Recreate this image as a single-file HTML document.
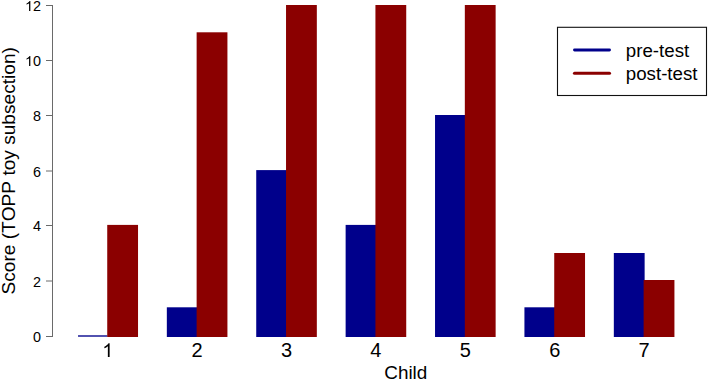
<!DOCTYPE html><html><head><meta charset="utf-8"><style>html,body{margin:0;padding:0;background:#fff;overflow:hidden;}svg{display:block;}text{font-family:"Liberation Sans",sans-serif;fill:#000;font-kerning:none;}</style></head><body>
<svg width="708" height="381" viewBox="0 0 708 381">
<rect x="78.03" y="335" width="29.40" height="2" fill="#00008B" fill-opacity="0.68"/>
<rect x="107.23" y="224.90" width="30.80" height="112.10" fill="#8B0000"/>
<rect x="166.83" y="307.30" width="30.80" height="29.70" fill="#00008B"/>
<rect x="196.63" y="32.30" width="30.80" height="304.70" fill="#8B0000"/>
<rect x="256.23" y="170.10" width="30.80" height="166.90" fill="#00008B"/>
<rect x="286.03" y="5.00" width="30.80" height="332.00" fill="#8B0000"/>
<rect x="345.63" y="224.90" width="30.80" height="112.10" fill="#00008B"/>
<rect x="375.43" y="5.00" width="30.80" height="332.00" fill="#8B0000"/>
<rect x="435.03" y="115.00" width="30.80" height="222.00" fill="#00008B"/>
<rect x="464.83" y="5.00" width="30.80" height="332.00" fill="#8B0000"/>
<rect x="524.43" y="307.30" width="30.80" height="29.70" fill="#00008B"/>
<rect x="554.23" y="253.00" width="30.80" height="84.00" fill="#8B0000"/>
<rect x="613.83" y="253.00" width="30.80" height="84.00" fill="#00008B"/>
<rect x="643.63" y="280.00" width="30.80" height="57.00" fill="#8B0000"/>
<path d="M52.5 5.0 V337.0" stroke="#6a6a6a" stroke-width="1" fill="none"/>
<path d="M46 336.50 H53.0" stroke="#6a6a6a" stroke-width="1" fill="none"/>
<text x="32.99" y="342.00" font-size="14.4">0</text>
<path d="M46 281.00 H53.0" stroke="#6a6a6a" stroke-width="1" fill="none"/>
<text x="32.99" y="286.50" font-size="14.4">2</text>
<path d="M46 225.50 H53.0" stroke="#6a6a6a" stroke-width="1" fill="none"/>
<text x="32.99" y="231.00" font-size="14.4">4</text>
<path d="M46 171.00 H53.0" stroke="#6a6a6a" stroke-width="1" fill="none"/>
<text x="32.99" y="176.50" font-size="14.4">6</text>
<path d="M46 115.50 H53.0" stroke="#6a6a6a" stroke-width="1" fill="none"/>
<text x="32.99" y="121.00" font-size="14.4">8</text>
<path d="M46 60.50 H53.0" stroke="#6a6a6a" stroke-width="1" fill="none"/>
<path fill="#000" transform="translate(24.98,66.00) scale(0.00703,-0.00679)" d="M763 0H583V1147Q518 1085 412.5 1023Q307 961 223 930V1104Q374 1175 487 1276Q600 1377 647 1472H763Z"/>
<text x="32.99" y="66.00" font-size="14.4">0</text>
<path d="M46 5.50 H53.0" stroke="#6a6a6a" stroke-width="1" fill="none"/>
<path fill="#000" transform="translate(24.98,11.00) scale(0.00703,-0.00679)" d="M763 0H583V1147Q518 1085 412.5 1023Q307 961 223 930V1104Q374 1175 487 1276Q600 1377 647 1472H763Z"/>
<text x="32.99" y="11.00" font-size="14.4">2</text>
<path fill="#000" transform="translate(102.17,357.00) scale(0.00977,-0.00938)" d="M763 0H583V1147Q518 1085 412.5 1023Q307 961 223 930V1104Q374 1175 487 1276Q600 1377 647 1472H763Z"/>
<text x="191.57" y="357.00" font-size="20.0">2</text>
<text x="280.97" y="357.00" font-size="20.0">3</text>
<text x="370.37" y="357.00" font-size="20.0">4</text>
<text x="459.77" y="357.00" font-size="20.0">5</text>
<text x="549.17" y="357.00" font-size="20.0">6</text>
<text x="638.57" y="357.00" font-size="20.0">7</text>
<text x="384.24 397.89 408.40 412.60 416.80" y="379.00" font-size="18.9">Child</text>
<g transform="translate(15.4,0) rotate(-90)"><text x="-294.47 -281.73 -272.18 -261.56 -255.19 -244.57 -239.27 -232.91 -221.24 -206.38 -193.64 -180.90 -175.60 -170.29 -159.67 -150.12 -144.81 -135.26 -124.64 -114.02 -104.47 -93.84 -84.29 -78.99 -74.74 -64.12 -53.50" y="0.00" font-size="19.1">Score (TOPP toy subsection)</text></g>
<rect x="557.5" y="27.3" width="149" height="68.2" fill="none" stroke="#111" stroke-width="1.1"/>
<line x1="574.5" y1="50.0" x2="609.5" y2="50.0" stroke="#00008B" stroke-width="2.9" stroke-linecap="round"/>
<line x1="574.5" y1="73.3" x2="609.5" y2="73.3" stroke="#8B0000" stroke-width="3.1" stroke-linecap="round"/>
<text x="625.79 636.19 642.42 652.82 659.05 664.24 674.64 683.99" y="57.00" font-size="18.7">pre-test</text>
<text x="625.79 636.19 646.59 655.94 661.14 667.37 672.56 682.96 692.31" y="80.00" font-size="18.7">post-test</text>
</svg></body></html>
